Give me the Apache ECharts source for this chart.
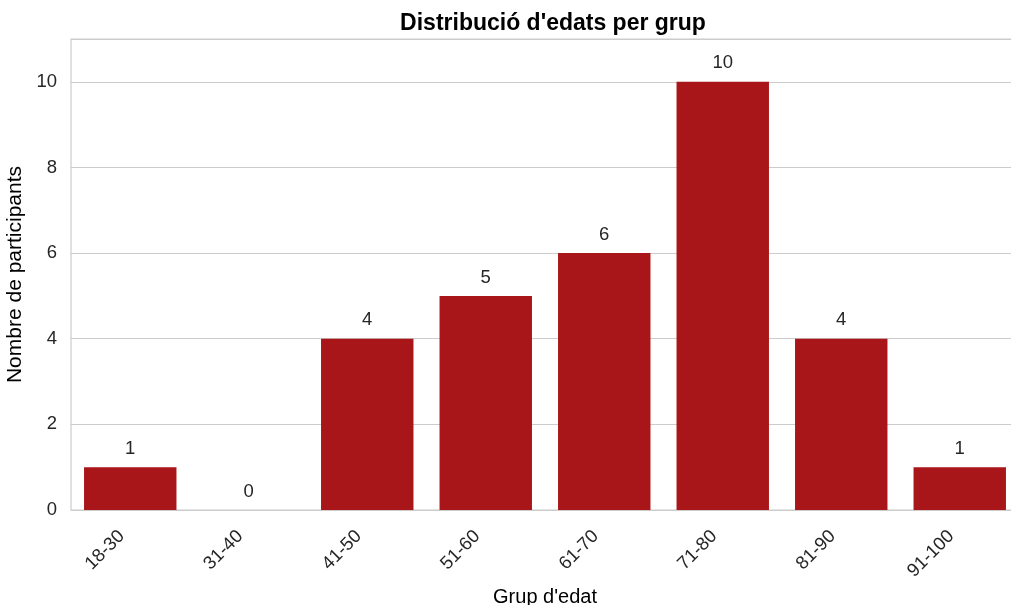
<!DOCTYPE html>
<html>
<head>
<meta charset="utf-8">
<script src="https://cdn.jsdelivr.net/npm/echarts@6/dist/echarts.min.js"></script>
<style>
  html, body { margin: 0; padding: 0; background: #ffffff; }
  #chart { width: 1011px; height: 605px; }
</style>
</head>
<body>
<div id="chart"></div>
<script>
// Age groups and number of participants in each
const ageGroups = ['18-30', '31-40', '41-50', '51-60', '61-70', '71-80', '81-90', '91-100'];
const participants = [1, 0, 4, 5, 6, 10, 4, 1];
const yTicks = [0, 2, 4, 6, 8, 10];

const FONT = '"Liberation Sans", Arial, sans-serif';
const chart = echarts.init(document.getElementById('chart'), null, { renderer: 'canvas' });

chart.setOption({
  animation: false,
  backgroundColor: '#ffffff',
  title: {
    text: "Distribució d'edats per grup",
    left: 548,
    textAlign: 'center',
    top: 7,
    textStyle: { fontFamily: FONT, fontSize: 23, fontWeight: 'bold', color: '#000000' }
  },
  grid: {
    left: 71,
    top: 39,
    width: 948,
    bottom: 95,
    show: true,
    borderColor: '#cccccc',
    borderWidth: 1.2,
    containLabel: false,
    outerBoundsMode: 'none'
  },
  xAxis: {
    type: 'category',
    data: ageGroups,
    axisLine: { show: false },
    axisTick: { show: false },
    axisLabel: {
      rotate: 45,
      margin: 15,
      padding: [0, 12, 0, 0],
      fontFamily: FONT,
      fontSize: 18.5,
      color: '#262626'
    },
    name: "Grup d'edat",
    nameLocation: 'middle',
    nameGap: 76,
    nameTextStyle: { fontFamily: FONT, fontSize: 20, color: '#000000' }
  },
  yAxis: {
    type: 'value',
    min: 0,
    max: 11,
    interval: 2,
    axisLine: { show: false },
    axisTick: { show: false },
    splitLine: { show: true, lineStyle: { color: '#cccccc', width: 1.2 } },
    axisLabel: {
      margin: 14,
      fontFamily: FONT,
      fontSize: 18.5,
      color: '#262626',
      formatter: v => (yTicks.includes(v) ? String(v) : '')
    },
    name: 'Nombre de participants',
    nameLocation: 'middle',
    nameGap: 44,
    nameTextStyle: { fontFamily: FONT, fontSize: 21, color: '#000000' }
  },
  series: [{
    type: 'bar',
    data: participants,
    barWidth: '78%',
    itemStyle: { color: '#a81619' },
    label: {
      show: true,
      position: 'top',
      distance: 9,
      fontFamily: FONT,
      fontSize: 18.5,
      color: '#262626'
    }
  }]
});
</script>
</body>
</html>
